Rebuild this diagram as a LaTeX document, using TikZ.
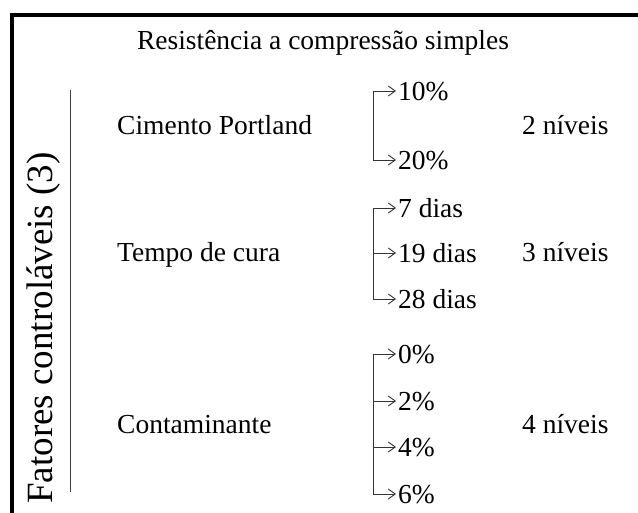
\documentclass[tikz,border=0pt]{standalone}
\usepackage{fontspec}
\setmainfont{Liberation Serif}
\usetikzlibrary{arrows.meta}
\begin{document}
\begin{tikzpicture}[x=1pt,y=-1pt,
  txt/.style={inner sep=0pt,font=\fontsize{27.5}{33}\selectfont,text height=18.7pt,text depth=0pt},
  opt/.style={txt,anchor=west},
  lab/.style={txt,anchor=west},
  brk/.style={line width=0.9pt,draw=black!80},
  arr/.style={brk,-{Straight Barb[length=7pt,width=10pt,line width=0.9pt]},shorten >=2pt},
  frame/.style={line width=4.5pt,line join=miter}]
\useasboundingbox (0,0) rectangle (638,513);
% frame
\coordinate (fbl) at (12,513);
\coordinate (ftl) at (12,15);
\coordinate (ftr) at (638,15);
\draw[frame] (fbl) -- (ftl) -- (ftr);
% title
\node[txt] (title) at (323,40) {Resistência a compressão simples};
% side label
\node[txt,rotate=90,font=\fontsize{37}{40}\selectfont,text height=25pt] (side) at (40,328) {Fatores controláveis (3)};
\coordinate (sl1) at (70,90);
\coordinate (sl2) at (70,492);
\draw[line width=0.9pt,draw=black!75] (sl1) -- (sl2);
% factors
\node[lab] (cim) at (117,125) {Cimento Portland};
\node[lab] (tem) at (117,252) {Tempo de cura};
\node[lab] (con) at (117,424) {Contaminante};
\node[lab] (n2) at (522,125) {2 níveis};
\node[lab] (n3) at (522,252) {3 níveis};
\node[lab] (n4) at (522,424) {4 níveis};
% options
\node[opt] (o10) at (398,91) {10\%};
\node[opt] (o20) at (398,160) {20\%};
\node[opt] (d7) at (398,208) {7 dias};
\node[opt] (d19) at (398,253) {19 dias};
\node[opt] (d28) at (398,299) {28 dias};
\node[opt] (c0) at (398,354) {0\%};
\node[opt] (c2) at (398,401) {2\%};
\node[opt] (c4) at (398,447) {4\%};
\node[opt] (c6) at (398,494) {6\%};
% brackets
\coordinate (b1t) at (373,91);
\coordinate (b1b) at (373,160);
\draw[brk] (b1t) -- (b1b);
\draw[arr] (b1t) -- (o10.west);
\draw[arr] (b1b) -- (o20.west);
\coordinate (b2t) at (373,208);
\coordinate (b2b) at (373,299);
\draw[brk] (b2t) -- (b2b);
\draw[arr] (b2t) -- (d7.west);
\draw[arr] (b2t |- d19.west) -- (d19.west);
\draw[arr] (b2b) -- (d28.west);
\coordinate (b3t) at (373,354);
\coordinate (b3b) at (373,494);
\draw[brk] (b3t) -- (b3b);
\draw[arr] (b3t) -- (c0.west);
\draw[arr] (b3t |- c2.west) -- (c2.west);
\draw[arr] (b3t |- c4.west) -- (c4.west);
\draw[arr] (b3b) -- (c6.west);
\end{tikzpicture}
\end{document}
